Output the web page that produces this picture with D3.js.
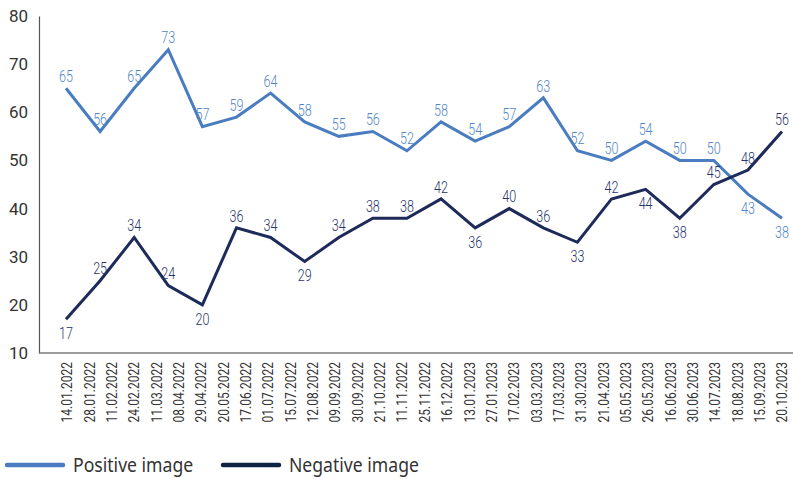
<!DOCTYPE html>
<html>
<head>
<meta charset="utf-8">
<script src="https://cdn.jsdelivr.net/npm/d3@7"></script>
<style>
  body { margin: 0; background: #fff; }
  svg { display: block; }
</style>
</head>
<body>
<svg id="chart" width="793" height="479"></svg>
<script>
// Survey dates shown along the horizontal axis
const dates = [
  "14.01.2022","28.01.2022","11.02.2022","24.02.2022","11.03.2022","08.04.2022",
  "29.04.2022","20.05.2022","17.06.2022","01.07.2022","15.07.2022","12.08.2022",
  "09.09.2022","30.09.2022","21.10.2022","11.11.2022","25.11.2022","16.12.2022",
  "13.01.2023","27.01.2023","17.02.2023","03.03.2023","17.03.2023","31.30.2023",
  "21.04.2023","05.05.2023","26.05.2023","16.06.2023","30.06.2023","14.07.2023",
  "18.08.2023","15.09.2023","20.10.2023"
];

// Share of respondents (%)
const positive = [65,56,65,73,57,59,64,58,55,56,52,58,54,57,63,52,50,54,50,50,43,38];
const negative = [17,25,34,24,20,36,34,29,34,38,38,42,36,40,36,33,42,44,38,45,48,56];

const yTicks = [10,20,30,40,50,60,70,80];

// Points whose value label sits under the line instead of above it
const positiveBelow = [20,21];
const negativeBelow = [0,4,7,12,15,17,18];

const series = [
  { name: "Positive image", values: positive, below: positiveBelow, line: "#4a7dbf", text: "#5286c6" },
  { name: "Negative image", values: negative, below: negativeBelow, line: "#1e2a5a", text: "#29356a" }
];

const svg = d3.select("#chart");
const plot = { left: 39, right: 793, top: 16, bottom: 353, first: 66, last: 782 };

const y = d3.scaleLinear().domain([10, 80]).range([plot.bottom, plot.top]);
const xPoint = d3.scalePoint().domain(d3.range(positive.length)).range([plot.first, plot.last]);
const xDate = d3.scalePoint().domain(dates).range([plot.first + 1, plot.last]);

// Y axis
const yAxis = svg.append("g")
  .attr("transform", `translate(${plot.left},0)`)
  .call(d3.axisLeft(y).tickValues(yTicks).tickSize(0).tickPadding(11).tickFormat(d3.format("d")));
yAxis.select(".domain").attr("stroke", "#555").attr("stroke-width", 1.2);
yAxis.selectAll("text")
  .attr("fill", "#333")
  .style("font-family", "Roboto, 'DejaVu Sans', sans-serif")
  .style("font-size", "17px");

// X axis baseline
svg.append("line")
  .attr("x1", plot.left).attr("x2", plot.right)
  .attr("y1", plot.bottom).attr("y2", plot.bottom)
  .attr("stroke", "#7a7a7a").attr("stroke-width", 1.5);

// X axis date labels, rotated
const xAxis = svg.append("g")
  .attr("transform", `translate(0,${plot.bottom})`)
  .call(d3.axisBottom(xDate).tickSize(0));
xAxis.select(".domain").remove();
xAxis.selectAll("text")
  .attr("x", 0).attr("y", 0).attr("dy", null)
  .attr("text-anchor", "end")
  .attr("dominant-baseline", "central")
  .attr("transform", "translate(0,9) rotate(-90) scale(0.86,1)")
  .attr("fill", "#333")
  .style("font-family", "Roboto, 'DejaVu Sans', sans-serif")
  .style("font-size", "14px");

// Lines and value labels
const line = d3.line().x((d, i) => xPoint(i)).y(d => y(d));

series.forEach(s => {
  svg.append("path")
    .datum(s.values)
    .attr("fill", "none")
    .attr("stroke", s.line)
    .attr("stroke-width", 3)
    .attr("stroke-linejoin", "miter")
    .attr("d", line);

  svg.append("g").selectAll("text")
    .data(s.values)
    .join("text")
    .attr("transform", (d, i) => {
      const dy = s.below.includes(i) ? 14 : -12;
      return `translate(${xPoint(i)},${y(d) + dy}) scale(0.74,1)`;
    })
    .attr("text-anchor", "middle")
    .attr("dominant-baseline", "central")
    .attr("fill", s.text)
    .style("font-family", "Roboto, 'DejaVu Sans', sans-serif")
    .style("font-size", "17px")
    .style("font-weight", 300)
    .text(d => d);
});

// Legend
const legend = svg.append("g").attr("transform", "translate(0,465)");
const legendX = [7, 223];
series.forEach((s, i) => {
  const g = legend.append("g").attr("transform", `translate(${legendX[i]},0)`);
  g.append("line")
    .attr("x1", 0).attr("x2", 56).attr("y1", 0).attr("y2", 0)
    .attr("stroke", i === 0 ? s.line : "#0f2444")
    .attr("stroke-width", 4.5)
    .attr("stroke-linecap", "round");
  g.append("text")
    .attr("transform", "translate(66,7) scale(0.88,1)")
    .attr("fill", "#333")
    .style("font-family", "'Noto Sans', 'Open Sans', sans-serif")
    .style("font-size", "20px")
    .text(s.name);
});
</script>
</body>
</html>
